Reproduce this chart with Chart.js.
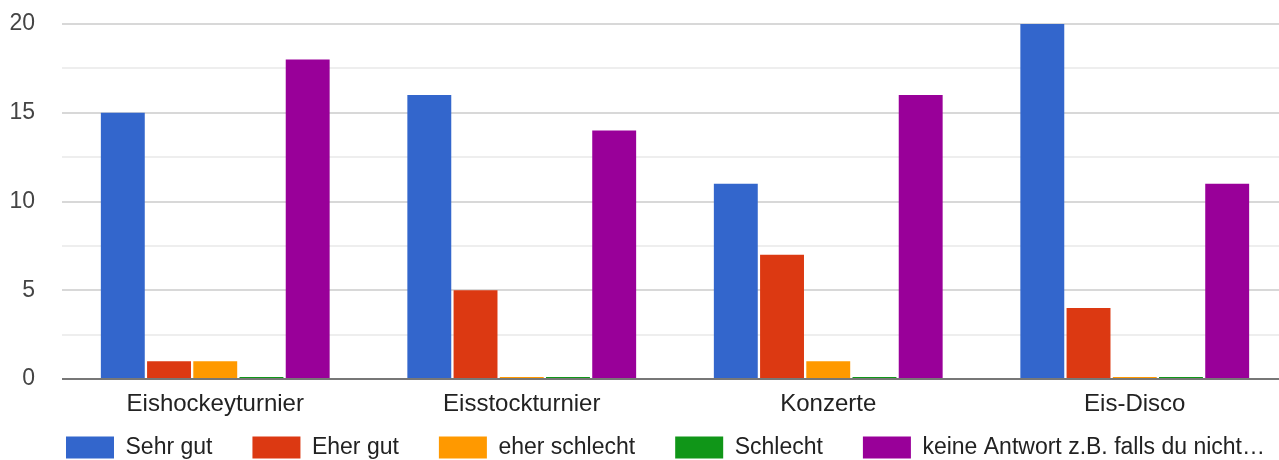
<!DOCTYPE html>
<html>
<head>
<meta charset="utf-8">
<script src="https://cdn.jsdelivr.net/npm/chart.js@4"></script>
<style>
  html, body { margin: 0; padding: 0; overflow: hidden; background: #fff; }
  #wrap { width: 1331px; height: 460px; }
</style>
</head>
<body>
<div id="wrap"><canvas id="chart" width="1331" height="460"></canvas></div>
<script>
// categories and series
const categories = ['Eishockeyturnier', 'Eisstockturnier', 'Konzerte', 'Eis-Disco'];
const sehrGut = [15, 16, 11, 20];
const eherGut = [1, 5, 7, 4];
const eherSchlecht = [1, 0, 1, 0];
const schlecht = [0, 0, 0, 0];
const keineAntwort = [18, 14, 16, 11];
const seriesNames = ['Sehr gut', 'Eher gut', 'eher schlecht', 'Schlecht', 'keine Antwort z.B. falls du nicht…'];
const seriesColors = ['#3366cc', '#dc3912', '#ff9900', '#109618', '#990099'];
const yTicks = [0, 5, 10, 15, 20];

Chart.defaults.font.family = '"Liberation Sans", Arial, sans-serif';

const allSeries = [sehrGut, eherGut, eherSchlecht, schlecht, keineAntwort];

// Function to build one dataset per answer
function makeDataset(values, i) {
  return {
    label: seriesNames[i],
    data: values,
    backgroundColor: seriesColors[i],
    borderWidth: 0,
    minBarLength: 2,
    barPercentage: 0.95,
    categoryPercentage: 0.754
  };
}

const ctx = document.getElementById('chart').getContext('2d');

const chart = new Chart(ctx, {
  type: 'bar',
  data: {
    labels: categories,
    datasets: allSeries.map(makeDataset)
  },
  options: {
    responsive: false,
    animation: false,
    devicePixelRatio: 1,
    layout: { padding: { left: 0, top: 24, right: 0, bottom: 0 } },
    plugins: {
      tooltip: { enabled: false },
      legend: {
        position: 'bottom',
        align: 'center',
        maxHeight: 64,
        labels: {
          boxWidth: 48,
          boxHeight: 22,
          padding: 40,
          color: '#222',
          font: { size: 23 }
        }
      }
    },
    scales: {
      x: {
        grid: { display: false, drawTicks: false },
        border: { display: false },
        // mirrored so the labels are not clipped to the thin axis box
        ticks: { color: '#222', font: { size: 24 }, mirror: true, padding: -40, maxRotation: 0, autoSkip: false },
        afterFit(scale) { scale.height = 17; }
      },
      y: {
        min: 0,
        max: 20,
        weight: 1,
        border: { display: false },
        ticks: {
          stepSize: 2.5,
          color: '#444',
          font: { size: 23 },
          padding: 0,
          callback: v => (yTicks.includes(v) ? v : '')
        },
        grid: {
          drawTicks: false,
          lineWidth: 2,
          color: c => {
            const v = c.tick ? c.tick.value : null;
            if (v === 0) return '#777777';
            return yTicks.includes(v) ? '#d8d8d8' : '#eeeeee';
          }
        },
        afterFit(scale) { scale.width = 35; }
      },
      // empty axes used as spacers left and right of the plot
      yGap: {
        position: 'left',
        weight: 0,
        grid: { display: false, drawTicks: false },
        border: { display: false },
        ticks: { display: false },
        afterFit(scale) { scale.width = 27; }
      },
      y2: {
        position: 'right',
        grid: { display: false, drawTicks: false },
        border: { display: false },
        ticks: { display: false },
        afterFit(scale) { scale.width = 43; }
      }
    }
  }
});
</script>
</body>
</html>
